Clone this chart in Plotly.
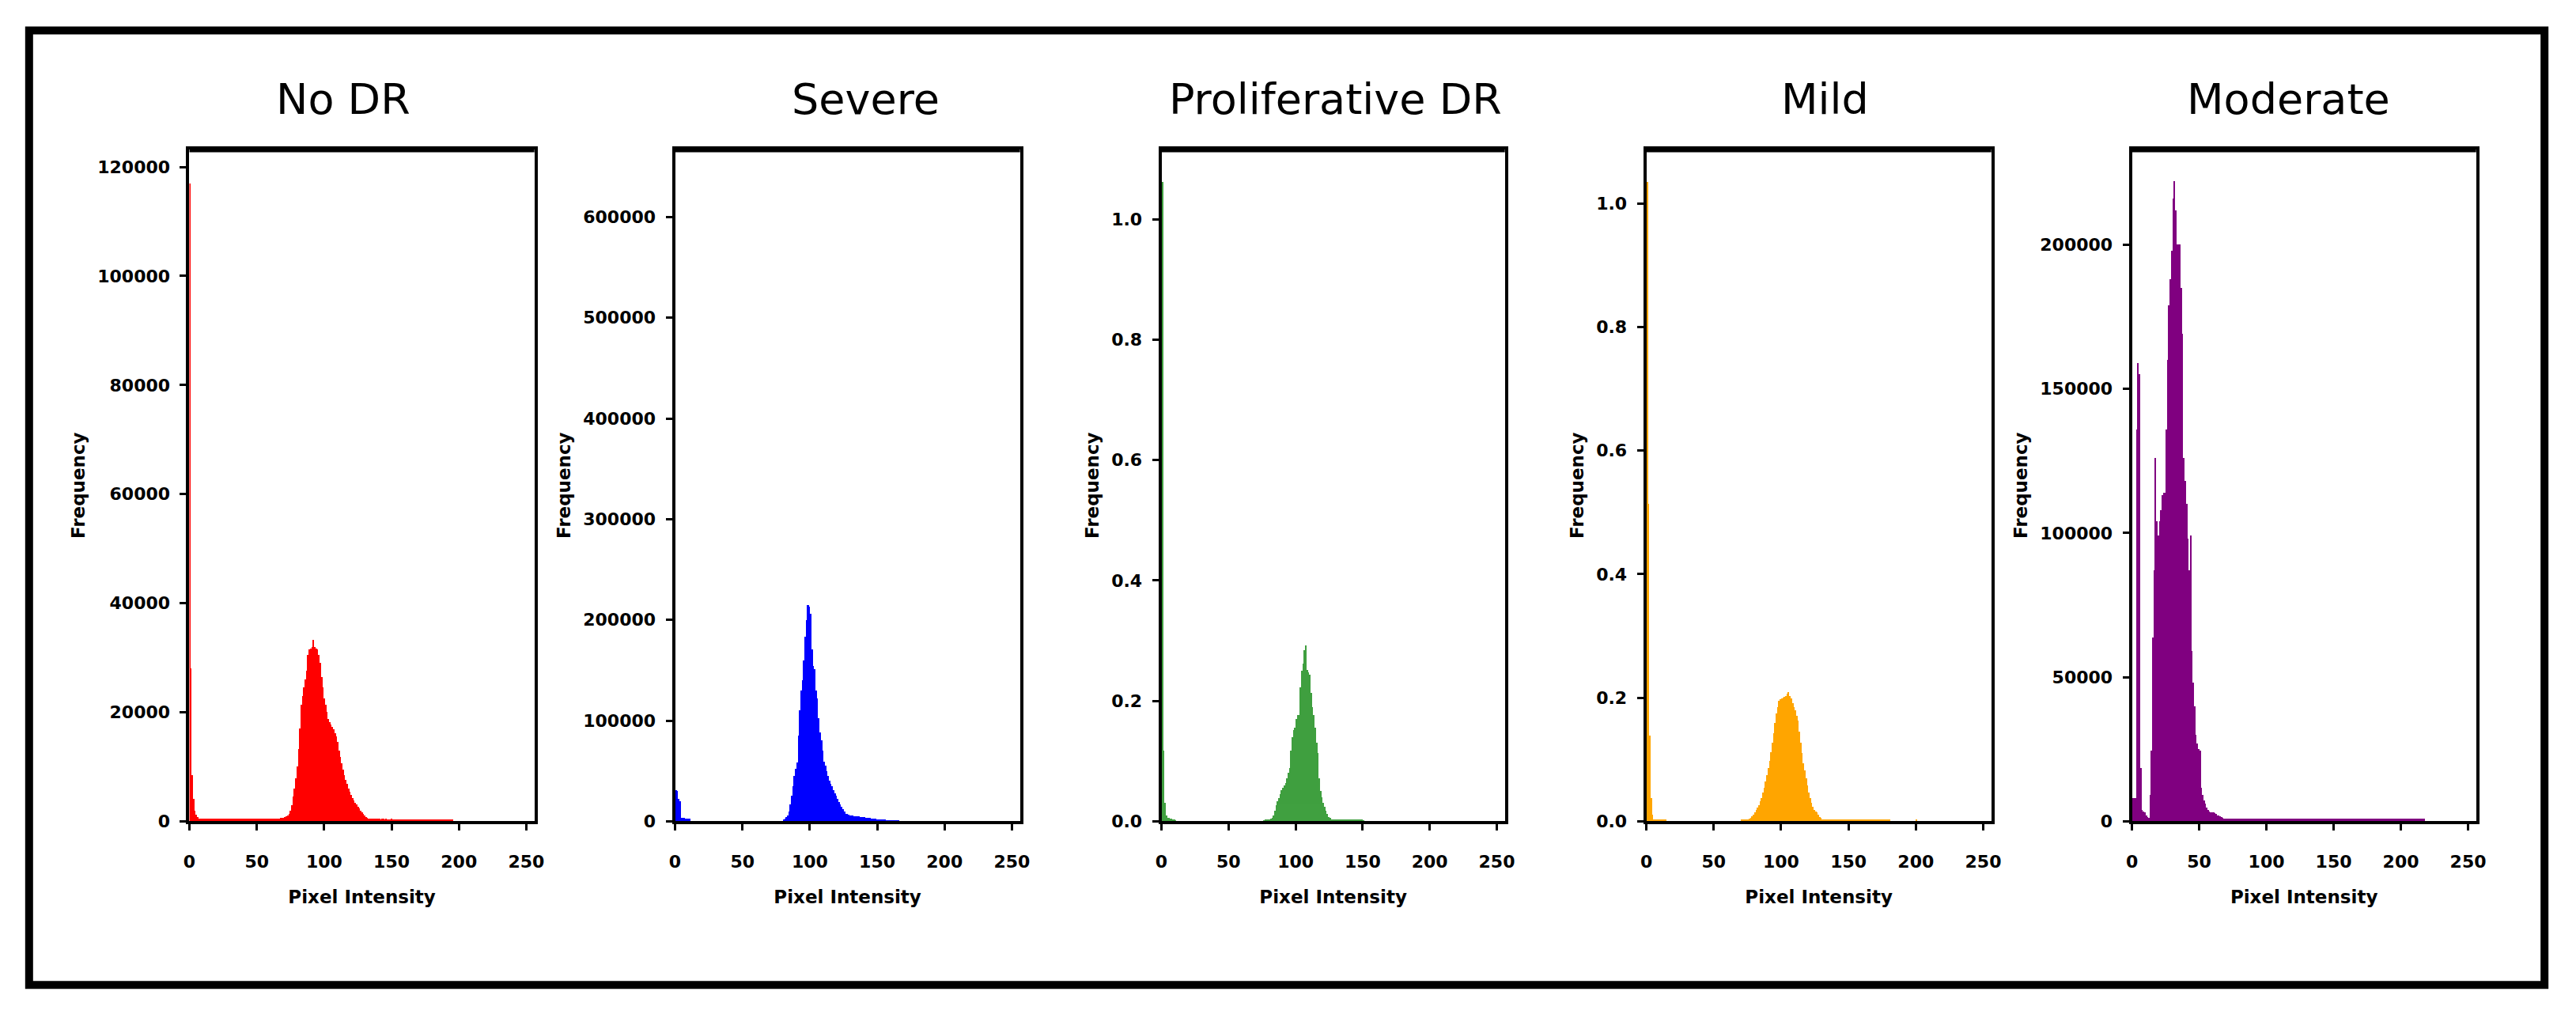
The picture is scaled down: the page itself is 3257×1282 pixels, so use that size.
import plotly.graph_objects as go

W = 3257
H = 1282

titles = ["No DR", "Severe", "Proliferative DR", "Mild", "Moderate"]
colors = ["#ff0000", "#0000ff", "#008000", "#ffa500", "#800080"]

# frequency per pixel intensity, index = intensity (bins after the last value are empty)
no_dr = [
    117000, 28000, 8400, 4100, 2000, 1200, 700, 500, 480, 470,  # 0
    460, 450, 450, 440, 450, 460, 450, 440, 450, 450,  # 10
    440, 450, 460, 450, 440, 450, 450, 440, 450, 460,  # 20
    450, 440, 450, 450, 440, 450, 460, 450, 440, 450,  # 30
    450, 440, 450, 460, 450, 440, 450, 450, 440, 450,  # 40
    460, 450, 440, 450, 450, 460, 470, 480, 480, 490,  # 50
    500, 500, 510, 520, 520, 530, 540, 550, 560, 580,  # 60
    650, 760, 850, 1000, 1400, 1900, 3000, 4500, 6000, 7900,  # 70
    10000, 13200, 17000, 21300, 23000, 24500, 26000, 27600, 30500, 31500,  # 80
    31600, 32000, 33200, 32000, 31600, 31500, 30500, 29000, 26500, 24500,  # 90
    22500, 21300, 20000, 18700, 18200, 17800, 17300, 16800, 16200, 15600,  # 100
    14500, 13000, 11800, 10700, 9500, 8400, 7600, 6800, 6000, 5400,  # 110
    4800, 4300, 3800, 3400, 3100, 2700, 2300, 2000, 1700, 1300,  # 120
    1000, 720, 600, 500, 460, 440, 430, 420, 420, 410,  # 130
    420, 410, 400, 410, 420, 400, 410, 400, 390, 400,  # 140
    410, 400, 390, 400, 390, 380, 400, 390, 380, 390,  # 150
    380, 390, 380, 370, 380, 390, 380, 370, 380, 370,  # 160
    360, 370, 380, 370, 360, 370, 360, 350, 360, 370,  # 170
    360, 350, 360, 350, 340, 350, 340, 350, 340, 330,  # 180
    340, 330, 320, 330, 320, 310,  # 190
]

severe = [
    31000, 30000, 22300, 20000, 3000, 3000, 3000, 2900, 2800, 2800,  # 0
    2500, 0, 0, 0, 0, 0, 0, 0, 0, 0,  # 10
    0, 0, 0, 0, 0, 0, 0, 0, 0, 0,  # 20
    0, 0, 0, 0, 0, 0, 0, 0, 0, 0,  # 30
    0, 0, 0, 0, 0, 0, 0, 0, 0, 0,  # 40
    0, 0, 0, 0, 0, 0, 0, 0, 0, 0,  # 50
    0, 0, 0, 0, 0, 0, 0, 0, 0, 0,  # 60
    0, 0, 0, 0, 0, 0, 0, 0, 0, 0,  # 70
    1500, 2500, 4000, 6000, 10000, 17000, 25000, 35000, 45000, 52000,  # 80
    58000, 85000, 110000, 130000, 140000, 160000, 183000, 200000, 215000, 213000,  # 90
    206000, 171000, 154000, 151000, 130000, 122000, 102000, 88000, 80000, 70000,  # 100
    59000, 55000, 50000, 45000, 40000, 37500, 35000, 31000, 27400, 25000,  # 110
    22300, 19000, 17000, 14500, 12000, 9500, 7500, 7000, 6500, 6000,  # 120
    5600, 5500, 5300, 5000, 4900, 4800, 4600, 4400, 4200, 4000,  # 130
    3800, 3600, 3400, 3200, 3000, 2800, 2600, 2500, 2400, 2200,  # 140
    2000, 1900, 1800, 1700, 1600, 1500, 1400, 1300, 1200, 1100,  # 150
    1000, 900, 800, 700, 600, 500,  # 160
]

proliferative = [
    1.062, 0.118, 0.031, 0.010, 0.006, 0.005, 0.004, 0.004, 0.003, 0.003,  # 0
    0.002, 0, 0, 0, 0, 0, 0, 0, 0, 0,  # 10
    0, 0, 0, 0, 0, 0, 0, 0, 0, 0,  # 20
    0, 0, 0, 0, 0, 0, 0, 0, 0, 0,  # 30
    0, 0, 0, 0, 0, 0, 0, 0, 0, 0,  # 40
    0, 0, 0, 0, 0, 0, 0, 0, 0, 0,  # 50
    0, 0, 0, 0, 0, 0, 0, 0, 0, 0,  # 60
    0, 0, 0, 0, 0, 0, 0.002, 0.003, 0.003, 0.003,  # 70
    0.003, 0.004, 0.006, 0.010, 0.018, 0.027, 0.033, 0.039, 0.045, 0.051,  # 80
    0.055, 0.060, 0.064, 0.072, 0.080, 0.089, 0.118, 0.140, 0.151, 0.155,  # 90
    0.170, 0.176, 0.176, 0.222, 0.250, 0.262, 0.284, 0.292, 0.251, 0.248,  # 100
    0.243, 0.213, 0.190, 0.176, 0.155, 0.130, 0.114, 0.072, 0.050, 0.040,  # 110
    0.031, 0.024, 0.018, 0.012, 0.007, 0.005, 0.003, 0.003, 0.003, 0.003,  # 120
    0.003, 0.003, 0.003, 0.003, 0.003, 0.003, 0.003, 0.003, 0.003, 0.003,  # 130
    0.003, 0.003, 0.003, 0.003, 0.003, 0.003, 0.003, 0.003, 0.003, 0.003,  # 140
    0.002,  # 150
]

mild = [
    1.035, 0.514, 0.139, 0.038, 0.010, 0.003, 0.003, 0.003, 0.003, 0.003,  # 0
    0.003, 0.003, 0.003, 0.003, 0.003, 0, 0, 0, 0, 0,  # 10
    0, 0, 0, 0, 0, 0, 0, 0, 0, 0,  # 20
    0, 0, 0, 0, 0, 0, 0, 0, 0, 0,  # 30
    0, 0, 0, 0, 0, 0, 0, 0, 0, 0,  # 40
    0, 0, 0, 0, 0, 0, 0, 0, 0, 0,  # 50
    0, 0, 0, 0, 0, 0, 0, 0, 0, 0,  # 60
    0.003, 0.003, 0.003, 0.003, 0.003, 0.003, 0.004, 0.006, 0.008, 0.011,  # 70
    0.014, 0.018, 0.022, 0.026, 0.032, 0.038, 0.046, 0.054, 0.064, 0.074,  # 80
    0.086, 0.098, 0.112, 0.127, 0.143, 0.159, 0.175, 0.185, 0.195, 0.197,  # 90
    0.199, 0.200, 0.201, 0.203, 0.206, 0.209, 0.203, 0.199, 0.191, 0.185,  # 100
    0.179, 0.171, 0.163, 0.145, 0.127, 0.110, 0.094, 0.082, 0.070, 0.058,  # 110
    0.046, 0.038, 0.030, 0.024, 0.018, 0.016, 0.014, 0.010, 0.007, 0.005,  # 120
    0.003, 0.003, 0.003, 0.003, 0.003, 0.003, 0.003, 0.003, 0.003, 0.003,  # 130
    0.003, 0.003, 0.003, 0.003, 0.003, 0.003, 0.003, 0.003, 0.003, 0.003,  # 140
    0.003, 0.003, 0.003, 0.003, 0.003, 0.003, 0.003, 0.003, 0.003, 0.003,  # 150
    0.003, 0.003, 0.003, 0.003, 0.003, 0.003, 0.003, 0.003, 0.003, 0.003,  # 160
    0.003, 0.003, 0.003, 0.003, 0.003, 0.003, 0.003, 0.003, 0.003, 0.003,  # 170
    0.003, 0, 0, 0, 0, 0, 0, 0, 0, 0,  # 180
    0, 0, 0, 0, 0, 0, 0, 0, 0, 0,  # 190
    0.003,  # 200
]

moderate = [
    8000, 8000, 8000, 136000, 159000, 155000, 18500, 4000, 3500, 3000,  # 0
    2000, 1500, 1200, 9000, 24600, 63600, 87000, 126000, 104000, 99000,  # 10
    104000, 108000, 113000, 114000, 114000, 136000, 160000, 179000, 188000, 198000,  # 20
    216000, 222000, 212000, 200000, 200000, 200000, 185000, 169000, 126000, 118000,  # 30
    110000, 98000, 87000, 99000, 59000, 48000, 40000, 30000, 27000, 25000,  # 40
    24600, 11600, 9000, 7300, 6000, 4700, 4000, 3300, 3000, 3000,  # 50
    3000, 2800, 2500, 2000, 2000, 1800, 1500, 1200, 900, 870,  # 60
    870, 860, 870, 880, 870, 860, 870, 880, 870, 860,  # 70
    870, 870, 860, 870, 880, 870, 860, 870, 870, 860,  # 80
    870, 880, 870, 860, 870, 870, 880, 870, 860, 870,  # 90
    880, 870, 860, 870, 870, 880, 870, 860, 870, 870,  # 100
    860, 870, 880, 870, 860, 870, 870, 880, 870, 860,  # 110
    870, 870, 860, 870, 880, 870, 860, 870, 870, 860,  # 120
    870, 880, 870, 860, 870, 870, 880, 870, 860, 870,  # 130
    870, 860, 870, 880, 870, 860, 870, 870, 860, 870,  # 140
    880, 870, 860, 870, 870, 860, 870, 880, 870, 860,  # 150
    870, 870, 860, 870, 880, 870, 860, 870, 870, 860,  # 160
    870, 880, 870, 860, 870, 870, 860, 870, 880, 870,  # 170
    860, 870, 870, 860, 870, 880, 870, 860, 870, 870,  # 180
    860, 870, 880, 870, 860, 870, 870, 860, 870, 880,  # 190
    870, 860, 870, 870, 860, 870, 880, 870, 860, 870,  # 200
    870, 860, 870, 880, 870, 860, 870, 860,  # 210
]

series = [no_dr, severe, proliferative, mild, moderate]

y_ranges = [[0, 123200], [0, 667000], [0, 1.116], [0, 1.087], [0, 233000]]
y_ticks = [
    [0, 20000, 40000, 60000, 80000, 100000, 120000],
    [0, 100000, 200000, 300000, 400000, 500000, 600000],
    [0, 0.2, 0.4, 0.6, 0.8, 1.0],
    [0, 0.2, 0.4, 0.6, 0.8, 1.0],
    [0, 50000, 100000, 150000, 200000],
]
y_fmt = ["d", "d", ".1f", ".1f", "d"]
x_ticks = [0, 50, 100, 150, 200, 250]

# plot areas in pixels (left, right) and shared top/bottom
panel_px = [(233, 672), (851, 1290), (1470, 1907), (2087, 2526), (2705, 3143)]
title_x = [429, 1094, 1691, 2314, 2904]
top_px, bottom_px = 191, 1049

font = "DejaVu Sans"
tick_font = dict(family=font, size=22, color="black", weight="bold")
label_font = dict(family=font, size=23, color="black", weight="bold")

fig = go.Figure()

for i in range(5):
    n = "" if i == 0 else str(i + 1)
    vals = series[i]
    fig.add_trace(go.Bar(
        x=list(range(len(vals))), y=vals, width=0.9, offset=0,
        marker=dict(color=colors[i], line=dict(width=0)),
        opacity=0.75 if i == 2 else 1,
        xaxis="x" + n, yaxis="y" + n, showlegend=False,
    ))

    l, r = panel_px[i]
    fig.layout["xaxis" + n] = dict(
        domain=[l / W, r / W], anchor="y" + n, range=[0, 256],
        tickvals=x_ticks, ticks="outside", ticklen=8, tickwidth=3, tickcolor="black",
        showline=True, linecolor="black", linewidth=4, mirror=True,
        showgrid=False, zeroline=False, ticklabelstandoff=20,
        tickfont=tick_font,
        title=dict(text="Pixel Intensity", font=label_font, standoff=26),
    )
    fig.layout["yaxis" + n] = dict(
        domain=[1 - bottom_px / H, 1 - top_px / H], anchor="x" + n, range=y_ranges[i],
        tickvals=y_ticks[i], tickformat=y_fmt[i], ticks="outside", ticklen=8, tickwidth=3,
        tickcolor="black", showline=True, linecolor="black", linewidth=4, mirror=True,
        showgrid=False, zeroline=False, ticklabelstandoff=8,
        tickfont=tick_font,
        title=dict(text="Frequency", font=label_font, standoff=10),
    )

    # the frame's top edge is drawn heavier in the reference
    fig.add_shape(
        type="line", xref="paper", yref="paper",
        x0=l / W, x1=r / W, y0=1 - top_px / H, y1=1 - top_px / H,
        line=dict(color="black", width=7),
    )

    fig.add_annotation(
        text=titles[i], x=title_x[i] / W, y=1 - 127 / H, xref="paper", yref="paper",
        xanchor="center", yanchor="middle", showarrow=False,
        font=dict(family=font, size=54, color="black"),
    )

# outer frame round the whole figure
fig.add_shape(
    type="rect", xref="paper", yref="paper",
    x0=29 / W, x1=3230 / W, y0=1 - 1258 / H, y1=1 - 39 / H,
    line=dict(color="black", width=10), fillcolor="rgba(0,0,0,0)",
)

fig.update_layout(
    width=W, height=H, margin=dict(l=0, r=0, t=0, b=0),
    paper_bgcolor="white", plot_bgcolor="white",
    bargap=0,
)

fig.write_html("out.html", config={"displayModeBar": False},
               post_script="document.body.style.margin = '0px';")
